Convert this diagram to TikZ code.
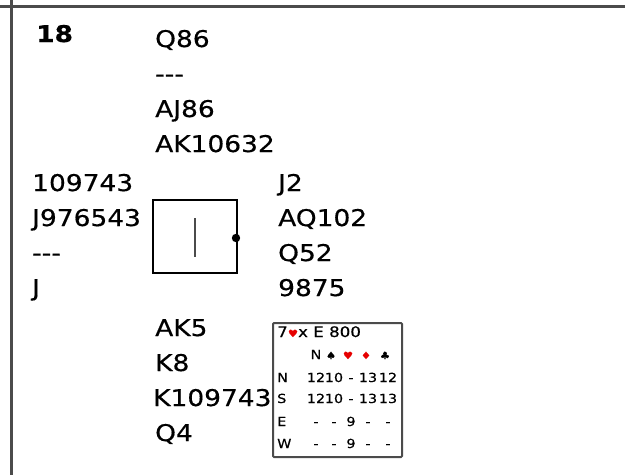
\documentclass[tikz,border=0pt]{standalone}
\usepackage{fontspec}
\setmainfont{DejaVu Sans}[FakeStretch=1.15,FakeBold=0.5]
\definecolor{framegray}{RGB}{75,75,75}
\definecolor{suitred}{RGB}{230,0,0}
\begin{document}
\begin{tikzpicture}[x=1pt,y=-1pt,
    hand/.style={anchor=base west,inner sep=0pt,font=\fontsize{23}{23}\selectfont},
    small/.style={anchor=base,inner sep=0pt,font=\fontsize{12.5}{12.5}\selectfont},
    smallw/.style={small,anchor=base west},
    suit/.style={small,font=\fontsize{10}{10}\selectfont}]
    \useasboundingbox (0,0) rectangle (625,475);
    % frame
    \draw[framegray, line width=3pt] (0,6) -- (625,6);
    \draw[framegray, line width=3pt] (11,0) -- (11,475);
    \node[hand, font=\fontsize{23}{23}\selectfont\bfseries] (board) at (36,42) {18};
    % north
    \node[hand] (n1) at (155,47) {Q86};
    \node[hand] (n2) at (155,82) {{-}{-}{-}};
    \node[hand] (n3) at (155,117) {AJ86};
    \node[hand] (n4) at (155,152) {AK10632};
    % west
    \node[hand] (w1) at (32,191) {109743};
    \node[hand] (w2) at (32,226) {J976543};
    \node[hand] (w3) at (32,261) {{-}{-}{-}};
    \node[hand] (w4) at (32,296) {J};
    % east
    \node[hand] (e1) at (278,191) {J2};
    \node[hand] (e2) at (278,226) {AQ102};
    \node[hand] (e3) at (278,261) {Q52};
    \node[hand] (e4) at (278,296) {9875};
    % south
    \node[hand] (s1) at (155,336) {AK5};
    \node[hand] (s2) at (155,371) {K8};
    \node[hand] (s3) at (153,406) {K109743};
    \node[hand] (s4) at (155,441) {Q4};
    % table
    \draw[line width=1.3pt] (153,200) rectangle (237,273);
    \draw[framegray, line width=2pt] (195,218) -- (195,257);
    \fill (236,238) circle (4.2);
    % makeable contracts
    \draw[framegray, line width=2pt, rounded corners=1pt] (273,323) rectangle (402,457);
    \node[smallw, font=\fontsize{14.5}{14.5}\selectfont] (contract) at (277,337) {7\textcolor{suitred}{\fontsize{10}{10}\selectfont♥}x E 800};
    \node[small] (hNT) at (316,359) {N};
    \node[suit] (hS) at (331,359) {♠};
    \node[suit, suitred] (hH) at (348,359) {♥};
    \node[suit, suitred] (hD) at (366,359) {♦};
    \node[suit] (hC) at (385,359) {♣};
    \foreach \dir/\yy/\a/\b/\c/\d/\e in {N/382/12/10/-/13/12, S/403/12/10/-/13/13,
                                        E/426/-/-/9/-/-, W/448/-/-/9/-/-} {
        \node[smallw] (lab\dir) at (277,\yy) {\dir};
        \node[small] at (316,\yy) {\a};
        \node[small] at (334,\yy) {\b};
        \node[small] at (351,\yy) {\c};
        \node[small] at (368,\yy) {\d};
        \node[small] at (388,\yy) {\e};
    }
\end{tikzpicture}
\end{document}
